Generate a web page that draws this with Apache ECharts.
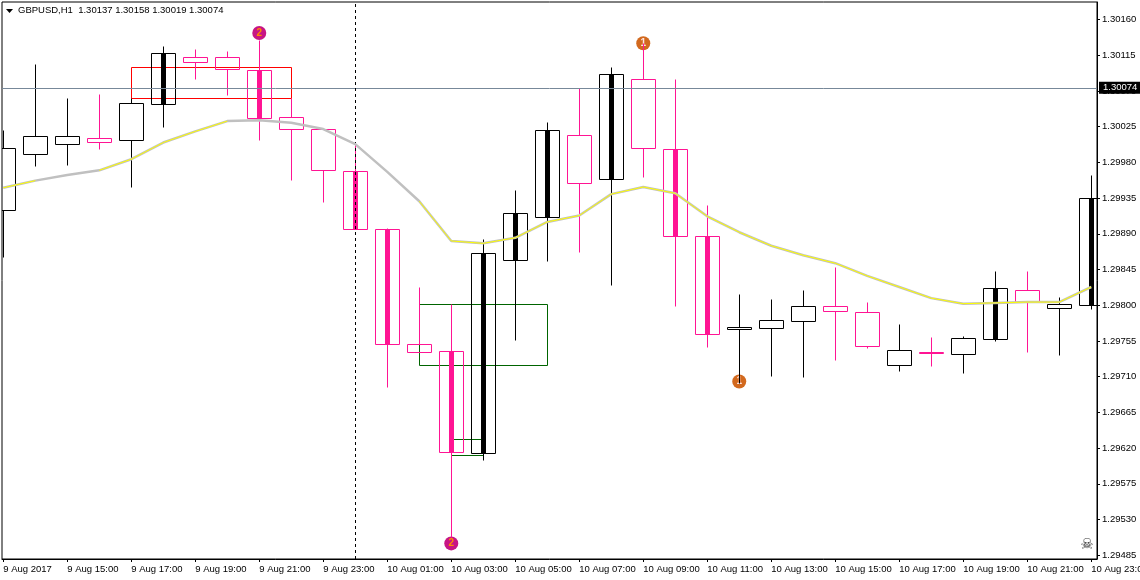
<!DOCTYPE html>
<html>
<head>
<meta charset="utf-8">
<title>GBPUSD,H1</title>
<style>
  html, body { margin: 0; padding: 0; background: #fff; }
  #chart { width: 1140px; height: 580px; }
</style>
<script src="https://cdn.jsdelivr.net/npm/echarts@6/dist/echarts.min.js"></script>
</head>
<body>
<div id="chart"></div>
<script>
const headerText = 'GBPUSD,H1  1.30137 1.30158 1.30019 1.30074'
const timeLabels = ['9 Aug 2017', '9 Aug 15:00', '9 Aug 17:00', '9 Aug 19:00', '9 Aug 21:00', '9 Aug 23:00',
  '10 Aug 01:00', '10 Aug 03:00', '10 Aug 05:00', '10 Aug 07:00', '10 Aug 09:00', '10 Aug 11:00',
  '10 Aug 13:00', '10 Aug 15:00', '10 Aug 17:00', '10 Aug 19:00', '10 Aug 21:00', '10 Aug 23:00']
const priceTicks = [1.30160, 1.30115, 1.30070, 1.30025, 1.29980, 1.29935, 1.29890, 1.29845,
  1.29800, 1.29755, 1.29710, 1.29665, 1.29620, 1.29575, 1.29530, 1.29485]
const lastPrice = 1.30074
const cursorBar = 11

const opens = [1.29920, 1.29990, 1.30003, 1.30010, 1.30008, 1.30053, 1.30112, 1.30112, 1.30096, 1.30037, 1.30022, 1.29969,
  1.29896, 1.29751, 1.29742, 1.29613, 1.29857, 1.29910, 1.30014, 1.29959, 1.30085, 1.29996, 1.29886, 1.29769,
  1.29771, 1.29780, 1.29799, 1.29791, 1.29724, 1.29740, 1.29738, 1.29757, 1.29819, 1.29796, 1.29800]
const highs = [1.30020, 1.30103, 1.30061, 1.30065, 1.30061, 1.30126, 1.30122, 1.30120, 1.30134, 1.30061, 1.30022, 1.30004,
  1.29897, 1.29822, 1.29801, 1.29883, 1.29944, 1.30030, 1.30073, 1.30100, 1.30130, 1.30084, 1.29926, 1.29814,
  1.29807, 1.29819, 1.29848, 1.29803, 1.29776, 1.29760, 1.29761, 1.29842, 1.29842, 1.29810, 1.29963]
const lows = [1.29860, 1.29975, 1.29976, 1.29996, 1.29948, 1.30024, 1.30084, 1.30064, 1.30007, 1.29957, 1.29930, 1.29896,
  1.29697, 1.29741, 1.29507, 1.29605, 1.29756, 1.29855, 1.29866, 1.29825, 1.29961, 1.29799, 1.29747, 1.29702,
  1.29710, 1.29709, 1.29730, 1.29745, 1.29716, 1.29723, 1.29714, 1.29754, 1.29740, 1.29737, 1.29795]
const closes = [1.29997, 1.30012, 1.30012, 1.30005, 1.30054, 1.30117, 1.30106, 1.30097, 1.30035, 1.30022, 1.29970, 1.29896,
  1.29751, 1.29741, 1.29615, 1.29865, 1.29915, 1.30020, 1.29954, 1.30091, 1.29998, 1.29886, 1.29763, 1.29772,
  1.29781, 1.29799, 1.29792, 1.29748, 1.29743, 1.29739, 1.29758, 1.29821, 1.29803, 1.29801, 1.29935]
// bars that get the solid centre stripe
const strongBars = [5, 8, 11, 12, 14, 15, 16, 17, 19, 21, 22, 31, 34]

const maSilver = [1.29948, 1.29957, 1.29964, 1.29970, 1.29984, 1.30005, 1.30019, 1.30032, 1.30033, 1.30030, 1.30022, 1.30003,
  1.29968, 1.29931, 1.29881, 1.29878, 1.29885, 1.29905, 1.29913, 1.29940, 1.29949, 1.29941, 1.29912, 1.29892,
  1.29875, 1.29863, 1.29853, 1.29837, 1.29823, 1.29809, 1.29802, 1.29803, 1.29804, 1.29804, 1.29823]
const maYellow = [1.29948, 1.29957, null, 1.29970, 1.29984, 1.30005, 1.30019, 1.30032, null, 1.30030, null, 1.30003,
  null, 1.29931, 1.29881, 1.29878, 1.29885, 1.29905, 1.29913, 1.29940, 1.29949, 1.29941, 1.29912, 1.29892,
  1.29875, 1.29863, 1.29853, 1.29837, 1.29823, 1.29809, 1.29802, 1.29803, 1.29804, 1.29804, 1.29823]

// [first bar, last bar, top price, bottom price]
const redBoxes = [[4, 9, 1.30100, 1.30061]]
const greenBoxes = [[13, 17, 1.29801, 1.29724], [14, 15, 1.29631, 1.29611]]

// [bar, price, number]
const purpleMarks = [[8, 1.30143, 2], [14, 1.29500, 2]]
const orangeMarks = [[20, 1.30130, 1], [23, 1.29704, 1]]

const font = '"Liberation Sans", Arial, sans-serif'
const fontSize = 9.5
const pink = '#ff1493'
const xMin = -0.04
const xMax = 34.18
const yMin = 1.2948034
const yMax = 1.3018205

const ohlc = opens.map((o, i) => [i, o, closes[i], lows[i], highs[i], strongBars.includes(i) ? 1 : 0])

function crisp(v) {
  return Math.floor(v) + 0.5
}

function renderCandle(params, api) {
  const i = api.value(0)
  const open = api.value(1)
  const close = api.value(2)
  const x = crisp(api.coord([i, open])[0])
  const topY = crisp(api.coord([i, Math.max(open, close)])[1])
  const bottomY = crisp(api.coord([i, Math.min(open, close)])[1])
  const highY = crisp(api.coord([i, api.value(4)])[1])
  const lowY = crisp(api.coord([i, api.value(3)])[1])
  const color = close >= open ? '#000' : pink
  const line = { stroke: color, lineWidth: 1, fill: null }
  const children = [
    { type: 'line', shape: { x1: x, y1: highY, x2: x, y2: topY }, style: line },
    { type: 'line', shape: { x1: x, y1: bottomY, x2: x, y2: lowY }, style: line },
    { type: 'rect', shape: { x: x - 12, y: topY, width: 24, height: bottomY - topY }, style: line }
  ]
  if (api.value(5)) {
    children.push({ type: 'rect', shape: { x: x - 2.5, y: topY, width: 5, height: bottomY - topY }, style: { fill: color } })
  }
  return { type: 'group', children }
}

function renderBox(color) {
  return function (params, api) {
    const x1 = crisp(api.coord([api.value(0), api.value(2)])[0])
    const x2 = crisp(api.coord([api.value(1), api.value(2)])[0])
    const y1 = crisp(api.coord([api.value(0), api.value(2)])[1])
    const y2 = crisp(api.coord([api.value(0), api.value(3)])[1])
    return {
      type: 'rect',
      shape: { x: x1, y: y1, width: x2 - x1, height: y2 - y1 },
      style: { fill: null, stroke: color, lineWidth: 1 }
    }
  }
}

function markSeries(points, fill, textColor) {
  return {
    type: 'scatter',
    data: points.map(p => ({ value: p, label: { formatter: String(p[2]) } })),
    symbol: 'circle',
    symbolSize: 14,
    z: 3,
    silent: true,
    itemStyle: { color: fill, opacity: 1 },
    label: { show: true, position: 'inside', color: textColor, fontSize: 10, fontWeight: 'bold', fontFamily: font }
  }
}

const chart = echarts.init(document.getElementById('chart'))
chart.setOption({
  animation: false,
  backgroundColor: '#fff',
  title: {
    text: headerText,
    left: 18,
    top: 5,
    padding: 0,
    textStyle: { color: '#000', fontSize: fontSize, fontWeight: 'normal', fontFamily: font }
  },
  grid: {
    left: 2,
    right: 43,
    top: 2,
    bottom: 21,
    outerBoundsMode: 'none',
    show: true,
    backgroundColor: '#fff',
    borderColor: '#000',
    borderWidth: 1
  },
  xAxis: {
    type: 'value',
    min: xMin,
    max: xMax,
    splitLine: { show: false },
    axisLine: { show: true, lineStyle: { color: '#000', width: 1 } },
    axisTick: { show: true, length: 3, lineStyle: { color: '#000' }, customValues: timeLabels.map((t, i) => i * 2) },
    axisLabel: {
      customValues: timeLabels.map((t, i) => i * 2),
      formatter: v => timeLabels[v / 2],
      color: '#000',
      fontSize: fontSize,
      fontFamily: font,
      align: 'left',
      margin: 5
    }
  },
  yAxis: {
    type: 'value',
    position: 'right',
    min: yMin,
    max: yMax,
    splitLine: { show: false },
    axisLine: { show: true, onZero: false, lineStyle: { color: '#000', width: 1 } },
    axisTick: { show: true, length: 3, lineStyle: { color: '#000' }, customValues: priceTicks },
    axisLabel: {
      customValues: priceTicks,
      formatter: v => v.toFixed(5),
      color: '#000',
      fontSize: fontSize,
      fontFamily: font,
      margin: 5
    }
  },
  series: [
    {
      // price line and cursor sit under the candles
      type: 'line',
      data: [],
      z: 1,
      silent: true,
      markLine: {
        silent: true,
        symbol: 'none',
        animation: false,
        data: [
          [
            {
              coord: [xMin, lastPrice],
              lineStyle: { color: '#778899', width: 1, type: 'solid' },
              label: {
                show: true,
                position: 'end',
                formatter: lastPrice.toFixed(5),
                color: '#fff',
                backgroundColor: '#000',
                fontSize: fontSize,
                fontFamily: font,
                padding: [1, 4, 1, 4],
                distance: 2
              }
            },
            { coord: [xMax, lastPrice] }
          ],
          [
            {
              coord: [cursorBar, yMin],
              lineStyle: { color: '#000', width: 1, type: [3, 3] },
              label: { show: false }
            },
            { coord: [cursorBar, yMax] }
          ]
        ]
      }
    },
    {
      type: 'custom',
      data: redBoxes,
      renderItem: renderBox('#ff0000'),
      encode: { x: [0, 1], y: [2, 3] },
      clip: true,
      z: 2,
      silent: true
    },
    {
      type: 'custom',
      data: greenBoxes,
      renderItem: renderBox('#006400'),
      encode: { x: [0, 1], y: [2, 3] },
      clip: true,
      z: 2,
      silent: true
    },
    markSeries(purpleMarks, '#c71585', '#ff8c00'),
    markSeries(orangeMarks, '#d2691e', '#ffe4e1'),
    {
      type: 'custom',
      data: ohlc,
      renderItem: renderCandle,
      encode: { x: 0, y: [1, 2, 3, 4] },
      clip: true,
      z: 4,
      silent: true
    },
    {
      type: 'line',
      data: maSilver.map((v, i) => [i, v]),
      showSymbol: false,
      lineStyle: { color: '#c0c0c0', width: 2.5 },
      z: 5,
      silent: true
    },
    {
      type: 'line',
      data: maYellow.map((v, i) => [i, v]),
      showSymbol: false,
      connectNulls: false,
      lineStyle: { color: '#ffff00', width: 1 },
      z: 6,
      silent: true
    }
  ],
  graphic: [
    { type: 'polygon', shape: { points: [[6, 9], [13, 9], [9.5, 13]] }, style: { fill: '#000' } },
    { type: 'text', x: 1087, y: 545, style: { text: '☠', fontSize: 15, fontFamily: 'DejaVu Sans', fill: '#333', align: 'center', verticalAlign: 'middle' } }
  ]
})
</script>
</body>
</html>
